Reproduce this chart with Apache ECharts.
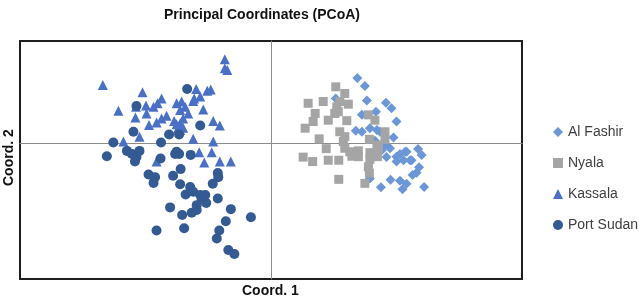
<!DOCTYPE html>
<html>
<head>
<meta charset="utf-8">
<script src="https://cdn.jsdelivr.net/npm/echarts@6/dist/echarts.min.js"></script>
<style>html,body{margin:0;padding:0;background:#fff}#c{width:640px;height:300px}</style>
</head>
<body>
<div id="c"></div>
<script>
const titleText = 'Principal Coordinates (PCoA)';
const xName = 'Coord. 1';
const yName = 'Coord. 2';
const seriesNames = ['Al Fashir', 'Nyala', 'Kassala', 'Port Sudan'];

const alFashir = [
  [1.72,1.47],[1.87,1.29],[1.29,1.01],[1.91,0.96],[2.29,0.91],[2.40,0.79],[1.81,0.64],[2.09,0.71],
  [2.50,0.49],[1.69,0.28],[1.81,0.26],[1.97,0.34],[2.11,0.30],[2.17,0.26],[2.44,0.13],[2.07,0.06],
  [2.37,-0.11],[2.21,-0.15],[2.30,-0.31],[2.50,-0.30],[2.57,-0.24],[2.70,-0.19],[2.64,-0.38],[2.77,-0.38],
  [2.50,-0.41],[2.93,-0.13],[3.00,-0.26],[2.95,-0.54],[2.90,-0.66],[2.82,-0.71],[2.38,-0.82],[2.57,-0.84],
  [2.70,-0.91],[2.62,-1.03],[2.19,-0.99],[3.05,-0.98],[1.97,-0.79],[2.80,-0.38],[2.67,-0.19],[2.27,-0.04]
];
const nyala = [
  [1.29,1.27],[1.47,1.12],[0.74,0.90],[1.04,0.94],[1.37,0.94],[1.54,0.88],[1.34,0.71],[0.88,0.67],
  [1.27,0.67],[0.84,0.49],[1.14,0.52],[1.51,0.51],[0.68,0.34],[1.94,0.64],[2.07,0.52],[1.37,0.26],
  [2.27,0.26],[2.27,0.09],[1.96,0.09],[0.96,0.10],[1.44,0.04],[1.10,-0.12],[1.47,-0.11],[1.57,-0.19],
  [1.74,-0.17],[2.14,-0.11],[1.97,-0.21],[2.12,-0.30],[0.64,-0.31],[0.83,-0.41],[1.14,-0.38],[1.35,-0.38],
  [1.61,-0.29],[1.74,-0.30],[1.97,-0.36],[1.94,-0.53],[1.96,-0.67],[1.35,-0.81],[1.87,-0.90],[1.31,0.82],
  [1.47,0.15],[2.11,-0.04]
];
const kassala = [
  [-0.92,1.89],[-0.92,1.69],[-0.87,1.65],[-3.35,1.31],[-2.56,1.15],[-1.49,1.22],[-1.41,1.05],[-1.27,1.18],
  [-1.20,1.21],[-1.55,0.95],[-1.53,1.01],[-2.18,1.01],[-2.26,0.90],[-2.34,0.82],[-2.49,0.85],[-2.69,0.82],
  [-3.04,0.73],[-2.48,0.67],[-2.70,0.58],[-1.88,0.90],[-1.78,0.94],[-1.71,0.82],[-1.81,0.75],[-1.65,0.67],
  [-1.35,0.76],[-2.08,0.62],[-2.18,0.56],[-2.28,0.47],[-2.43,0.41],[-1.93,0.50],[-1.75,0.56],[-1.81,0.45],
  [-1.85,0.34],[-1.75,0.35],[-1.15,0.50],[-1.02,0.40],[-2.62,0.15],[-1.55,0.10],[-1.15,0.04],[-2.94,0.04],
  [-1.43,-0.20],[-1.18,-0.20],[-1.33,-0.43],[-1.02,-0.41],[-0.80,-0.41],[-2.28,-0.41],[-1.81,0.30],[-1.88,0.43]
];
const portSudan = [
  [-1.67,1.22],[-2.68,0.84],[-1.41,0.40],[-2.74,0.26],[-2.03,0.20],[-1.83,0.20],[-2.19,0.02],[-3.14,0.02],
  [-3.27,-0.29],[-2.87,-0.17],[-2.77,-0.24],[-2.62,-0.17],[-2.68,-0.31],[-2.71,-0.41],[-2.20,-0.34],[-1.91,-0.24],
  [-1.83,-0.24],[-1.88,-0.19],[-1.60,-0.26],[-2.44,-0.70],[-2.31,-0.76],[-2.34,-0.89],[-1.95,-0.73],[-1.80,-0.58],
  [-1.06,-0.67],[-1.05,-0.76],[-1.16,-0.91],[-1.81,-0.92],[-1.61,-0.98],[-1.55,-1.09],[-1.70,-1.15],[-1.41,-1.16],
  [-1.31,-1.16],[-1.38,-1.26],[-1.29,-1.34],[-1.06,-1.24],[-2.01,-1.44],[-1.48,-1.39],[-1.48,-1.50],[-1.58,-1.56],
  [-1.77,-1.61],[-0.80,-1.48],[-0.40,-1.66],[-0.90,-1.75],[-2.28,-1.96],[-1.73,-1.91],[-1.03,-1.96],[-1.08,-2.14],
  [-0.85,-2.40],[-0.73,-2.49]
];

const colors = ['#6b97d8', '#a5a5a5', '#4a6fc6', '#335a92'];
const symbols = ['diamond', 'rect', 'triangle', 'circle'];
const sizes = [10, 9, 10, 10];
const datasets = [alFashir, nyala, kassala, portSudan];

const chart = echarts.init(document.getElementById('c'), null, {renderer: 'canvas'});
const fontFam = '"Liberation Sans", Arial, sans-serif';

chart.setOption({
  animation: false,
  backgroundColor: '#ffffff',
  title: {
    text: titleText,
    left: 257, top: 3, textAlign: 'center',
    textStyle: {fontFamily: fontFam, fontSize: 14, fontWeight: 'bold', color: '#111'}
  },
  grid: {left: 20, top: 41, width: 502, height: 238, show: true, borderColor: '#1e1e1e', borderWidth: 2, backgroundColor: '#fff'},
  xAxis: {
    type: 'value', min: -5, max: 5,
    axisLine: {onZero: true, lineStyle: {color: '#8c8c8c', width: 1}},
    axisTick: {show: false}, axisLabel: {show: false}, splitLine: {show: false}
  },
  yAxis: {
    type: 'value', min: -3.05, max: 2.3,
    axisLine: {onZero: true, lineStyle: {color: '#8c8c8c', width: 1}},
    axisTick: {show: false}, axisLabel: {show: false}, splitLine: {show: false}
  },
  legend: {
    orient: 'vertical', left: 548, top: 120, itemWidth: 10, itemHeight: 10, itemGap: 17,
    textStyle: {fontFamily: fontFam, fontSize: 14, color: '#404040', lineHeight: 14},
    data: seriesNames.map((n, i) => ({name: n, icon: symbols[i]}))
  },
  graphic: [
    {type: 'text', left: 271 - 29, top: 284, style: {text: xName, font: 'bold 14px ' + fontFam, fill: '#111'}},
    {type: 'text', x: 2, y: 186, rotation: Math.PI / 2, style: {text: yName, font: 'bold 14px ' + fontFam, fill: '#111'}}
  ],
  series: seriesNames.map((n, i) => ({
    name: n, type: 'scatter', data: datasets[i], symbol: symbols[i], symbolSize: sizes[i],
    itemStyle: {color: colors[i], opacity: 1}, z: 2 + i
  }))
});
</script>
</body>
</html>
